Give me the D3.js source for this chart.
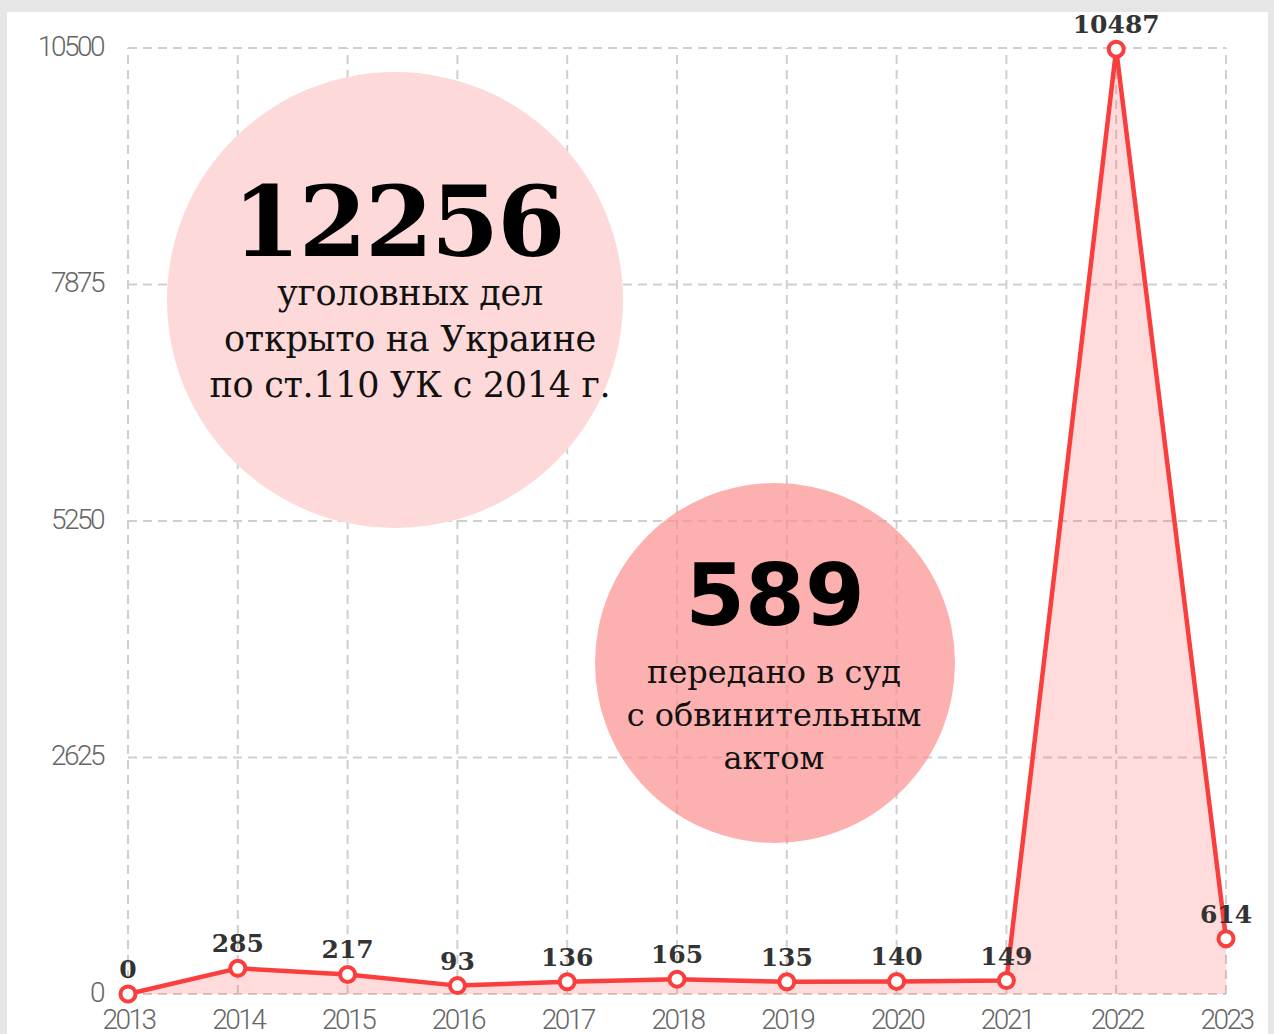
<!DOCTYPE html>
<html>
<head>
<meta charset="utf-8">
<script src="https://cdn.jsdelivr.net/npm/d3@7"></script>
<style>
  body { margin: 0; background: #e6e6e6; }
  svg { display: block; }
</style>
</head>
<body>
<svg id="chart" width="1274" height="1034"></svg>
<script>
const years = [2013, 2014, 2015, 2016, 2017, 2018, 2019, 2020, 2021, 2022, 2023]
const cases = [0, 285, 217, 93, 136, 165, 135, 140, 149, 10487, 614]
const yTicks = [0, 2625, 5250, 7875, 10500]

const bigTotal = "12256"
const bigLines = ["уголовных дел", "открыто на Украине", "по ст.110 УК с 2014 г."]
const courtTotal = "589"
const courtLines = ["передано в суд", "с обвинительным", "актом"]

const width = 1274, height = 1034
const margin = { top: 48, right: 48, bottom: 40, left: 128 }

const svg = d3.select("#chart")

svg.append("rect")
  .attr("width", width).attr("height", height)
  .attr("fill", "#e6e6e6")
svg.append("rect")
  .attr("x", 7).attr("y", 12)
  .attr("width", 1261).attr("height", height - 12)
  .attr("fill", "#fff")

const x = d3.scalePoint()
  .domain(years)
  .range([margin.left, width - margin.right])

const y = d3.scaleLinear()
  .domain([0, 10500])
  .range([height - margin.bottom, margin.top])

// dashed grid
const grid = svg.append("g").attr("class", "grid")
grid.selectAll(".h")
  .data(yTicks)
  .enter()
  .append("line")
  .attr("x1", x.range()[0]).attr("x2", x.range()[1])
  .attr("y1", d => y(d)).attr("y2", d => y(d))
grid.selectAll(".v")
  .data(years)
  .enter()
  .append("line")
  .attr("x1", d => x(d)).attr("x2", d => x(d))
  .attr("y1", y(0)).attr("y2", y(10500))
grid.selectAll("line")
  .attr("stroke", "#cfcfcf")
  .attr("stroke-width", 2)
  .attr("stroke-dasharray", "9,6")

// axes, only labels are visible
const yAxis = svg.append("g")
  .attr("transform", "translate(" + (margin.left - 25) + ",0)")
  .call(d3.axisLeft(y).tickValues(yTicks).tickSize(0).tickPadding(0).tickFormat(d3.format("d")))
const xAxis = svg.append("g")
  .attr("transform", "translate(0," + y(0) + ")")
  .call(d3.axisBottom(x).tickSize(0).tickPadding(0).tickFormat(d3.format("d")))
svg.selectAll(".domain").remove()
yAxis.selectAll("text").attr("dy", "0.25em")
xAxis.selectAll("text").attr("dy", "1.25em")
svg.selectAll(".tick text")
  .attr("fill", "#666")
  .style("font-family", "Roboto, sans-serif")
  .style("font-weight", 300)
  .style("font-size", "28px")
  .style("letter-spacing", "-2.5px")

// circle annotations
svg.append("circle")
  .attr("cx", 395).attr("cy", 300).attr("r", 228)
  .attr("fill", "#fdd9d9")

svg.append("circle")
  .attr("cx", 775).attr("cy", 663).attr("r", 180)
  .attr("fill", "#fc8f8f")
  .attr("opacity", 0.7)

svg.append("text")
  .attr("x", 398).attr("y", 256)
  .attr("text-anchor", "middle")
  .style("font-family", "'DejaVu Serif', serif")
  .style("font-weight", "bold")
  .style("font-size", "98px")
  .style("letter-spacing", "-2px")
  .attr("fill", "#000")
  .text(bigTotal)

svg.append("g")
  .selectAll("text")
  .data(bigLines)
  .enter()
  .append("text")
  .attr("x", 410)
  .attr("y", (d, i) => 305 + i * 46)
  .attr("text-anchor", "middle")
  .style("font-family", "'DejaVu Serif', serif")
  .style("font-size", "35px")
  .style("letter-spacing", "-0.3px")
  .attr("fill", "#111")
  .text(d => d)

svg.append("text")
  .attr("x", 775).attr("y", 625)
  .attr("text-anchor", "middle")
  .style("font-family", "'DejaVu Sans', sans-serif")
  .style("font-weight", "bold")
  .style("font-size", "86px")
  .attr("fill", "#000")
  .text(courtTotal)

svg.append("g")
  .selectAll("text")
  .data(courtLines)
  .enter()
  .append("text")
  .attr("x", 774)
  .attr("y", (d, i) => 683 + i * 43)
  .attr("text-anchor", "middle")
  .style("font-family", "'DejaVu Serif', serif")
  .style("font-size", "32px")
  .attr("fill", "#111")
  .text(d => d)

// series
const pts = years.map((yr, i) => ({ year: yr, value: cases[i] }))

const area = d3.area()
  .x(d => x(d.year))
  .y0(y(0))
  .y1(d => y(d.value))
const line = d3.line()
  .x(d => x(d.year))
  .y(d => y(d.value))

svg.append("path")
  .datum(pts)
  .attr("d", area)
  .attr("fill", "#ff5a5a")
  .attr("opacity", 0.22)

svg.append("path")
  .datum(pts)
  .attr("d", line)
  .attr("fill", "none")
  .attr("stroke", "#fa3d3d")
  .attr("stroke-width", 4.5)
  .attr("stroke-linejoin", "round")

svg.selectAll(".dot")
  .data(pts)
  .enter()
  .append("circle")
  .attr("class", "dot")
  .attr("cx", d => x(d.year))
  .attr("cy", d => y(d.value))
  .attr("r", 7.5)
  .attr("fill", "#fff")
  .attr("stroke", "#fa3d3d")
  .attr("stroke-width", 4)

svg.selectAll(".val")
  .data(pts)
  .enter()
  .append("text")
  .attr("class", "val")
  .attr("x", d => x(d.year))
  .attr("y", d => y(d.value) - 16)
  .attr("text-anchor", "middle")
  .style("font-family", "'DejaVu Serif', serif")
  .style("font-weight", "bold")
  .style("font-size", "25px")
  .attr("fill", "#333")
  .text(d => d.value)
</script>
</body>
</html>
